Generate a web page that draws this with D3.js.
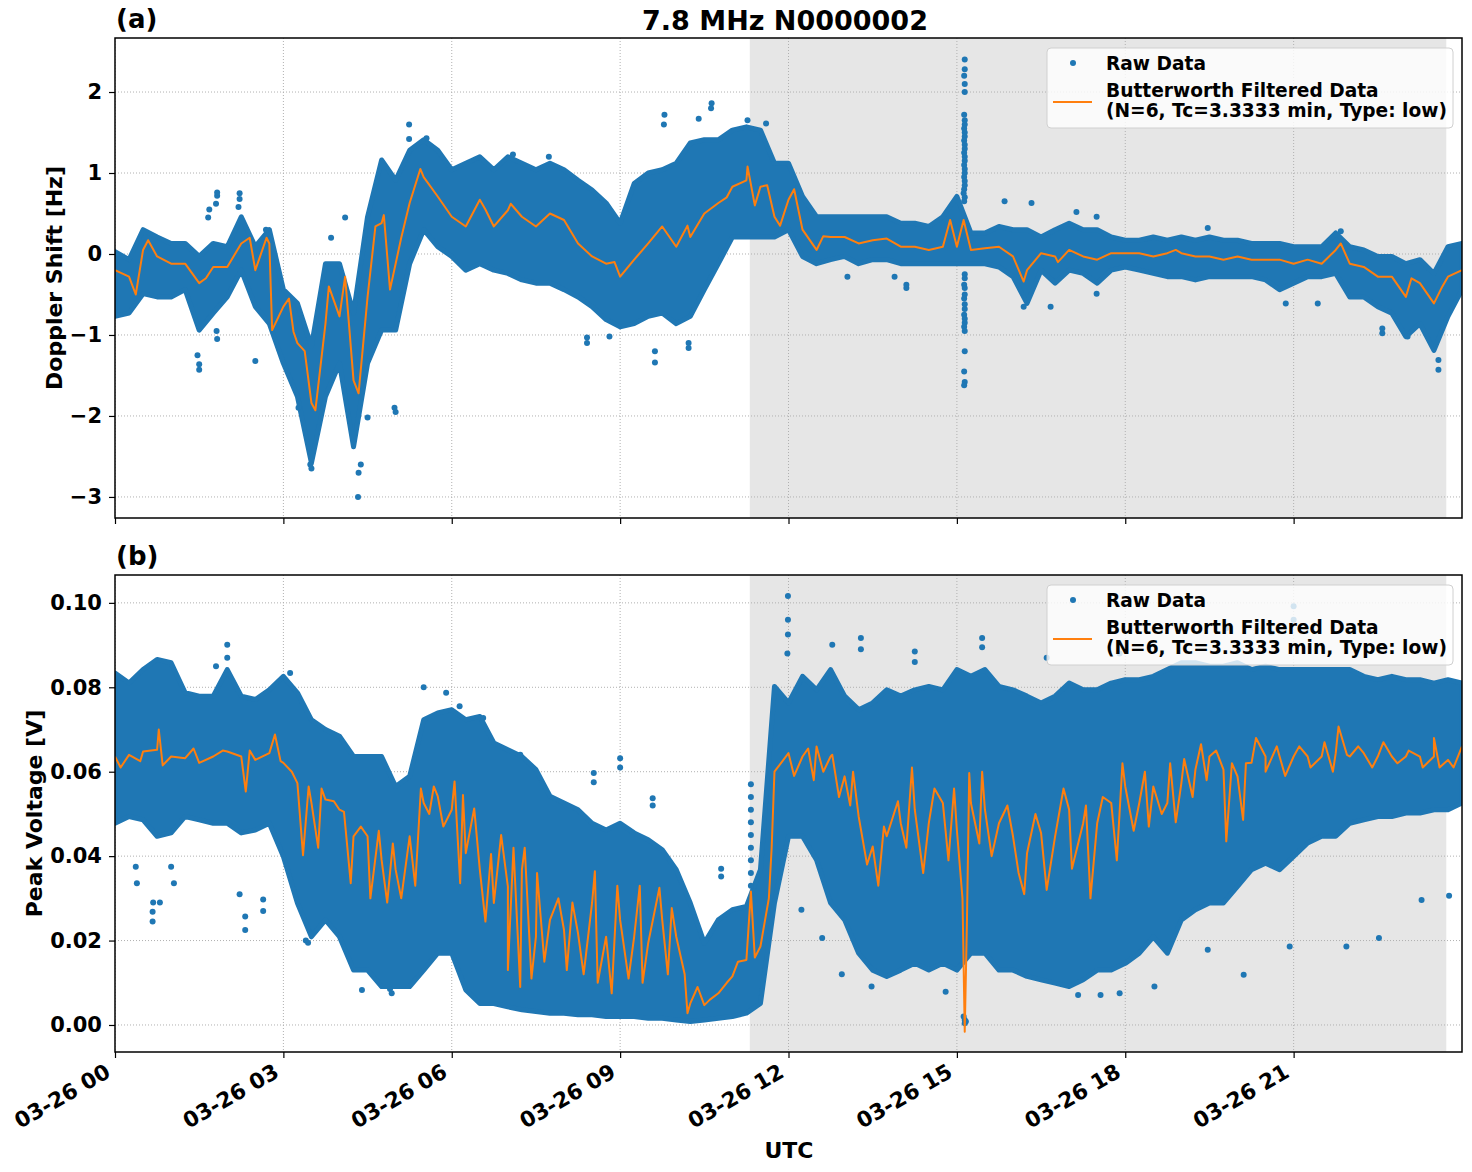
<!DOCTYPE html>
<html>
<head>
<meta charset="utf-8">
<script src="https://cdn.jsdelivr.net/npm/d3@7"></script>
<style>
  body { margin: 0; background: #fff; }
  text { font-family: "DejaVu Sans", sans-serif; font-weight: bold; }
</style>
</head>
<body>
<script>
'use strict';

// time axis: 15 minute bins over 03-26, in hours UTC
const binHours = d3.range(0, 24.001, 0.25);
const xTickHours = [0, 3, 6, 9, 12, 15, 18, 21];
const shadeStart = 11.31;   // grey band start (hours)
const shadeEnd = 23.72;     // grey band end (hours)

// ---- panel (a): Doppler shift [Hz] ----
const dopplerTicks = [-3, -2, -1, 0, 1, 2];
// Butterworth filtered line, one value per bin
const dopplerFilt = [
  -0.20, -0.28, 0.05, -0.03, -0.12, -0.12, -0.36, -0.16, -0.16, 0.13, -0.20, 0.13,
  -0.65, -1.10, -1.84, -0.86, -0.77, -1.56, -0.53, 0.38, -0.12, 0.63, 0.95, 0.71,
  0.46, 0.34, 0.67, 0.34, 0.54, 0.46, 0.34, 0.50, 0.42, 0.13, -0.03, -0.12,
  -0.28, -0.07, 0.13, 0.34, 0.09, 0.21, 0.50, 0.63, 0.83, 0.91, 0.83, 0.46,
  0.67, 0.30, 0.05, 0.21, 0.21, 0.13, 0.17, 0.19, 0.09, 0.09, 0.05, 0.09,
  0.09, 0.05, 0.07, 0.09, -0.03, -0.20, 0.01, -0.03, 0.05, -0.03, -0.07, 0.01,
  0.01, 0.01, -0.03, 0.01, 0.01, -0.03, -0.03, -0.07, -0.03, -0.07, -0.07, -0.07,
  -0.12, -0.07, -0.12, 0.05, -0.12, -0.16, -0.28, -0.28, -0.53, -0.36, -0.61, -0.28,
  -0.20
];
// extra filtered-line wiggles between bins [hour, Hz]
const dopplerFiltExtra = [
  [0.37, -0.50], [0.59, 0.17], [1.62, -0.30], [2.40, 0.20], [2.70, 0.20], [2.80, -0.94],
  [3.10, -0.55], [3.18, -0.96], [3.38, -1.20], [3.57, -1.93], [3.81, -0.40], [4.10, -0.28],
  [4.34, -1.72], [4.64, 0.34], [4.79, 0.48], [4.90, -0.44], [5.10, 0.20], [5.44, 1.05],
  [6.60, 0.55], [7.05, 0.62], [8.90, -0.10], [10.20, 0.35], [10.90, 0.70], [11.27, 1.08],
  [11.40, 0.60], [11.62, 0.85], [11.85, 0.35], [12.10, 0.80], [12.62, 0.22], [14.88, 0.42],
  [15.12, 0.42], [16.19, -0.34], [16.80, -0.10], [18.90, 0.05], [21.84, 0.13], [23.10, -0.30],
  [23.65, -0.40]
];
// raw data spread per bin
const dopplerHi = [
  0.03, -0.07, 0.30, 0.21, 0.13, 0.13, -0.03, 0.13, 0.09, 0.46, 0.09, 0.30,
  -0.44, -0.61, -1.14, -0.12, -0.12, -0.73, 0.46, 1.16, 0.91, 1.28, 1.41, 1.28,
  1.04, 1.12, 1.20, 1.04, 1.20, 1.12, 1.04, 1.12, 1.04, 0.91, 0.79, 0.63,
  0.38, 0.87, 1.00, 1.04, 1.12, 1.37, 1.41, 1.41, 1.53, 1.57, 1.53, 1.12,
  1.12, 0.71, 0.46, 0.46, 0.46, 0.46, 0.46, 0.46, 0.38, 0.38, 0.34, 0.46,
  0.71, 0.26, 0.26, 0.34, 0.30, 0.30, 0.21, 0.30, 0.38, 0.30, 0.30, 0.21,
  0.17, 0.17, 0.21, 0.17, 0.21, 0.17, 0.21, 0.17, 0.17, 0.13, 0.13, 0.13,
  0.09, 0.09, 0.09, 0.26, 0.09, 0.05, -0.03, -0.03, -0.12, -0.07, -0.24, 0.09,
  0.13
];
const dopplerLo = [
  -0.77, -0.73, -0.49, -0.53, -0.53, -0.44, -0.94, -0.73, -0.53, -0.20, -0.65, -0.86,
  -1.35, -1.76, -2.58, -1.76, -1.35, -2.38, -1.35, -0.94, -0.94, -0.12, 0.30, 0.09,
  -0.03, -0.20, -0.12, -0.20, -0.24, -0.32, -0.36, -0.36, -0.44, -0.53, -0.65, -0.81,
  -0.90, -0.86, -0.77, -0.73, -0.86, -0.77, -0.44, -0.12, 0.21, 0.21, 0.21, 0.21,
  0.30, -0.03, -0.12, -0.07, -0.03, -0.12, -0.07, -0.07, -0.12, -0.12, -0.12, -0.12,
  -0.12, -0.12, -0.12, -0.16, -0.28, -0.61, -0.20, -0.36, -0.20, -0.24, -0.36, -0.20,
  -0.16, -0.20, -0.24, -0.28, -0.28, -0.32, -0.28, -0.28, -0.28, -0.28, -0.32, -0.44,
  -0.36, -0.28, -0.28, -0.24, -0.53, -0.53, -0.65, -0.73, -1.02, -0.86, -1.19, -0.77,
  -0.44
];
// isolated raw points [hour, Hz]
const dopplerOutliers = [
  [1.50, -1.43], [1.50, -1.36], [1.47, -1.25], [1.68, 0.55], [1.66, 0.45], [1.82, 0.72],
  [1.82, 0.76], [1.80, 0.62], [2.22, 0.75], [2.22, 0.68], [2.20, 0.58], [1.82, -1.05],
  [1.81, -0.95], [2.50, -1.32], [2.69, 0.30], [3.27, -1.90], [3.50, -2.65], [3.48, -2.60],
  [3.85, 0.20], [4.10, 0.45], [4.34, -2.70], [4.33, -3.00], [4.38, -2.60], [4.50, -2.02],
  [5.00, -1.95], [4.98, -1.90], [5.24, 1.60], [5.24, 1.42], [5.55, 1.43], [7.09, 1.23],
  [7.73, 1.20], [8.41, -1.10], [8.41, -1.03], [8.81, -1.02], [9.62, -1.34], [9.62, -1.20],
  [10.22, -1.16], [10.22, -1.10], [10.63, 1.86], [10.62, 1.80], [9.79, 1.72], [9.78, 1.60],
  [10.40, 1.67], [11.60, 1.61], [11.27, 1.65],
  [15.14, 2.40], [15.14, 2.28], [15.13, 2.20], [15.14, 2.10], [15.14, 2.00], [15.13, 1.72],
  [15.14, 1.65], [15.14, 1.60], [15.13, 1.55], [15.14, 1.50], [15.14, 1.45], [15.13, 1.40],
  [15.14, 1.35], [15.14, 1.30], [15.13, 1.25], [15.14, 1.20], [15.14, 1.15], [15.13, 1.10],
  [15.14, 1.05], [15.14, 1.00], [15.13, 0.95], [15.14, 0.90], [15.14, 0.85], [15.13, 0.80],
  [15.12, 0.75], [15.14, 0.70], [15.13, 0.65], [15.14, -0.25], [15.14, -0.30], [15.13, -0.38],
  [15.14, -0.42], [15.14, -0.50], [15.13, -0.55], [15.14, -0.62], [15.14, -0.68], [15.13, -0.75],
  [15.14, -0.80], [15.14, -0.85], [15.13, -0.90], [15.14, -0.95], [15.14, -1.20], [15.13, -1.45],
  [15.14, -1.58], [15.13, -1.62],
  [13.05, -0.28], [13.89, -0.28], [14.10, -0.42], [14.10, -0.38], [15.85, 0.65], [16.33, 0.63],
  [16.19, -0.65], [16.67, -0.65], [17.13, 0.52], [17.49, -0.49], [17.49, 0.46], [19.47, 0.32],
  [22.58, -0.98], [22.58, -0.92], [23.58, -1.43], [23.58, -1.31], [23.03, -1.02], [20.86, -0.61],
  [21.43, -0.61], [21.84, 0.28]
];

// ---- panel (b): peak voltage [V] ----
const voltTicks = [0.00, 0.02, 0.04, 0.06, 0.08, 0.10];
const voltFilt = [
  0.0636, 0.0640, 0.0648, 0.0652, 0.0636, 0.0632, 0.0621, 0.0636, 0.0648, 0.0636, 0.0628, 0.0644,
  0.0621, 0.0573, 0.0526, 0.0534, 0.0510, 0.0447, 0.0447, 0.0391, 0.0368, 0.0447, 0.0526, 0.0542,
  0.0510, 0.0407, 0.0368, 0.0289, 0.0328, 0.0368, 0.0209, 0.0249, 0.0225, 0.0217, 0.0289, 0.0209,
  0.0249, 0.0209, 0.0194, 0.0249, 0.0209, 0.0051, 0.0047, 0.0075, 0.0115, 0.0154, 0.0186, 0.0600,
  0.0644, 0.0636, 0.0660, 0.0636, 0.0589, 0.0494, 0.0423, 0.0447, 0.0478, 0.0510, 0.0478, 0.0526,
  0.0462, 0.0526, 0.0510, 0.0478, 0.0447, 0.0407, 0.0455, 0.0447, 0.0510, 0.0478, 0.0478, 0.0526,
  0.0565, 0.0526, 0.0565, 0.0526, 0.0573, 0.0605, 0.0636, 0.0605, 0.0589, 0.0621, 0.0636, 0.0636,
  0.0636, 0.0636, 0.0636, 0.0644, 0.0636, 0.0644, 0.0636, 0.0636, 0.0636, 0.0636, 0.0636, 0.0628,
  0.0660
];
const voltFiltExtra = [
  [0.10, 0.0610], [0.45, 0.0625], [0.78, 0.0700], [0.85, 0.0615], [1.40, 0.0655], [1.92, 0.0650],
  [2.33, 0.0553], [2.40, 0.0650], [2.85, 0.0688], [2.95, 0.0625], [3.15, 0.0600], [3.35, 0.0402],
  [3.45, 0.0565], [3.62, 0.0420], [3.68, 0.0560], [3.90, 0.0530], [4.08, 0.0505], [4.20, 0.0336],
  [4.38, 0.0470], [4.55, 0.0300], [4.70, 0.0460], [4.85, 0.0290], [4.95, 0.0430], [5.10, 0.0300],
  [5.35, 0.0330], [5.45, 0.0560], [5.60, 0.0500], [5.68, 0.0565], [5.85, 0.0470], [6.05, 0.0577],
  [6.15, 0.0336], [6.20, 0.0545], [6.40, 0.0513], [6.60, 0.0245], [6.70, 0.0405], [6.88, 0.0450],
  [7.00, 0.0130], [7.10, 0.0420], [7.22, 0.0090], [7.30, 0.0420], [7.42, 0.0110], [7.52, 0.0360],
  [7.65, 0.0150], [7.90, 0.0300], [8.05, 0.0130], [8.15, 0.0290], [8.35, 0.0120], [8.55, 0.0364],
  [8.60, 0.0100], [8.85, 0.0075], [8.95, 0.0330], [9.15, 0.0110], [9.35, 0.0330], [9.40, 0.0100],
  [9.70, 0.0325], [9.85, 0.0120], [9.92, 0.0277], [10.15, 0.0120], [10.20, 0.0028], [10.38, 0.0090],
  [10.60, 0.0060], [10.90, 0.0100], [11.10, 0.0150], [11.33, 0.0316], [11.40, 0.0160], [11.65, 0.0300],
  [11.70, 0.0420], [12.10, 0.0590], [12.35, 0.0655], [12.45, 0.0580], [12.62, 0.0600], [12.78, 0.0640],
  [12.90, 0.0540], [13.10, 0.0520], [13.15, 0.0600], [13.40, 0.0380], [13.60, 0.0330], [13.70, 0.0470],
  [13.95, 0.0530], [14.10, 0.0420], [14.20, 0.0610], [14.40, 0.0360], [14.60, 0.0560], [14.85, 0.0390],
  [14.95, 0.0560], [15.10, 0.0300], [15.14, -0.0016], [15.18, 0.0250], [15.22, 0.0597], [15.40, 0.0430],
  [15.45, 0.0600], [15.62, 0.0400], [15.90, 0.0520], [16.10, 0.0360], [16.20, 0.0310], [16.40, 0.0500],
  [16.60, 0.0320], [16.90, 0.0560], [17.05, 0.0370], [17.30, 0.0520], [17.38, 0.0300], [17.60, 0.0540],
  [17.85, 0.0390], [17.95, 0.0620], [18.15, 0.0460], [18.35, 0.0600], [18.42, 0.0470], [18.65, 0.0500],
  [18.80, 0.0620], [18.90, 0.0480], [19.05, 0.0630], [19.20, 0.0540], [19.35, 0.0665], [19.45, 0.0580],
  [19.62, 0.0650], [19.80, 0.0435], [19.90, 0.0620], [20.10, 0.0486], [20.15, 0.0620], [20.33, 0.0680],
  [20.50, 0.0600], [20.70, 0.0660], [20.85, 0.0590], [21.10, 0.0660], [21.30, 0.0610], [21.55, 0.0670],
  [21.70, 0.0600], [21.80, 0.0707], [21.95, 0.0640], [22.15, 0.0660], [22.40, 0.0610], [22.60, 0.0670],
  [22.85, 0.0620], [23.05, 0.0650], [23.30, 0.0610], [23.50, 0.0680], [23.60, 0.0610], [23.85, 0.0610]
];
const voltHi = [
  0.0834, 0.0810, 0.0842, 0.0866, 0.0858, 0.0787, 0.0779, 0.0779, 0.0842, 0.0779, 0.0771, 0.0794,
  0.0826, 0.0787, 0.0723, 0.0700, 0.0684, 0.0636, 0.0636, 0.0636, 0.0565, 0.0589, 0.0723, 0.0739,
  0.0747, 0.0723, 0.0731, 0.0668, 0.0652, 0.0636, 0.0605, 0.0542, 0.0526, 0.0510, 0.0478, 0.0462,
  0.0478, 0.0455, 0.0439, 0.0415, 0.0368, 0.0289, 0.0194, 0.0249, 0.0273, 0.0281, 0.0368, 0.0802,
  0.0763, 0.0826, 0.0794, 0.0842, 0.0779, 0.0747, 0.0763, 0.0794, 0.0779, 0.0794, 0.0802, 0.0794,
  0.0842, 0.0826, 0.0842, 0.0802, 0.0794, 0.0779, 0.0763, 0.0779, 0.0810, 0.0794, 0.0794, 0.0810,
  0.0818, 0.0818, 0.0826, 0.0842, 0.0858, 0.0858, 0.0850, 0.0850, 0.0858, 0.0842, 0.0850, 0.0842,
  0.0842, 0.0842, 0.0842, 0.0842, 0.0842, 0.0826, 0.0818, 0.0826, 0.0818, 0.0818, 0.0810, 0.0818,
  0.0810
];
const voltLo = [
  0.0478, 0.0494, 0.0486, 0.0447, 0.0455, 0.0494, 0.0486, 0.0478, 0.0478, 0.0455, 0.0462, 0.0478,
  0.0399, 0.0289, 0.0209, 0.0249, 0.0209, 0.0130, 0.0130, 0.0091, 0.0091, 0.0091, 0.0130, 0.0170,
  0.0170, 0.0083, 0.0051, 0.0051, 0.0043, 0.0036, 0.0032, 0.0028, 0.0028, 0.0024, 0.0024, 0.0020,
  0.0020, 0.0020, 0.0016, 0.0016, 0.0012, 0.0008, 0.0012, 0.0016, 0.0020, 0.0028, 0.0051, 0.0289,
  0.0447, 0.0447, 0.0391, 0.0289, 0.0249, 0.0170, 0.0130, 0.0115, 0.0130, 0.0146, 0.0130, 0.0146,
  0.0130, 0.0170, 0.0170, 0.0130, 0.0130, 0.0115, 0.0107, 0.0099, 0.0091, 0.0107, 0.0130, 0.0130,
  0.0146, 0.0170, 0.0209, 0.0170, 0.0249, 0.0273, 0.0289, 0.0289, 0.0328, 0.0368, 0.0383, 0.0368,
  0.0399, 0.0431, 0.0447, 0.0447, 0.0478, 0.0486, 0.0494, 0.0494, 0.0502, 0.0502, 0.0510, 0.0510,
  0.0526
];
const voltOutliers = [
  [0.39, 0.0336], [0.37, 0.0375], [0.67, 0.0245], [0.67, 0.0268], [0.68, 0.0290], [0.80, 0.0290],
  [1.05, 0.0336], [1.00, 0.0375], [2.00, 0.0901], [2.00, 0.0870], [1.80, 0.0850], [2.32, 0.0225],
  [2.32, 0.0257], [2.22, 0.0310], [2.64, 0.0270], [2.64, 0.0297], [3.12, 0.0834], [3.40, 0.0200],
  [3.44, 0.0195], [4.40, 0.0083], [4.93, 0.0075], [4.90, 0.0085], [5.50, 0.0800], [5.90, 0.0787],
  [6.14, 0.0755], [6.56, 0.0727], [7.22, 0.0640], [8.53, 0.0597], [8.53, 0.0575], [9.00, 0.0632],
  [9.00, 0.0610], [9.58, 0.0537], [9.58, 0.0520], [10.80, 0.0352], [10.80, 0.0370],
  [11.33, 0.0570], [11.33, 0.0540], [11.33, 0.0510], [11.33, 0.0480], [11.33, 0.0450], [11.33, 0.0420],
  [11.33, 0.0390], [11.33, 0.0360], [11.33, 0.0330], [11.33, 0.0300],
  [11.99, 0.1016], [11.99, 0.0960], [11.99, 0.0925], [11.98, 0.0880], [12.78, 0.0901], [12.23, 0.0273],
  [12.60, 0.0206], [13.29, 0.0917], [13.29, 0.0890], [14.25, 0.0885], [14.25, 0.0860], [15.45, 0.0917],
  [15.45, 0.0895], [13.48, 0.0091], [12.95, 0.0120], [17.16, 0.0071], [17.56, 0.0071], [17.90, 0.0075],
  [15.14, 0.0004], [15.14, 0.0012], [15.12, 0.0020], [15.16, 0.0008], [14.80, 0.0079], [21.00, 0.0992],
  [21.00, 0.0960], [19.47, 0.0178], [18.52, 0.0091], [20.11, 0.0119], [21.94, 0.0186], [22.52, 0.0206],
  [23.28, 0.0296], [23.77, 0.0306], [20.93, 0.0186], [20.60, 0.0930], [19.80, 0.0940], [17.90, 0.0880],
  [16.60, 0.0870]
];

const blue = '#1f77b4';
const orange = '#ff7f0e';

(function () {

  const svg = d3.select('body').append('svg')
    .attr('width', 1472)
    .attr('height', 1172);

  // shared time scale (hours)
  const x = d3.scaleLinear().domain([0, 24]).range([115, 1462]);

  svg.append('text')
    .attr('x', 785).attr('y', 30)
    .attr('text-anchor', 'middle')
    .style('font-size', '27px')
    .text('7.8 MHz N0000002');

  drawPanel({
    top: 38, bottom: 518, domain: [-3.26, 2.667],
    ticks: dopplerTicks, fmt: d3.format('d'),
    filt: dopplerFilt, extra: dopplerFiltExtra,
    hi: dopplerHi, lo: dopplerLo, outliers: dopplerOutliers,
    tag: '(a)', ylabel: 'Doppler Shift [Hz]', ylabelX: 62, xLabels: false, id: 'a'
  });

  drawPanel({
    top: 575, bottom: 1052, domain: [-0.0064, 0.1066],
    ticks: voltTicks, fmt: d3.format('.2f'),
    filt: voltFilt, extra: voltFiltExtra,
    hi: voltHi, lo: voltLo, outliers: voltOutliers,
    tag: '(b)', ylabel: 'Peak Voltage [V]', ylabelX: 42, xLabels: true, id: 'b'
  });

  svg.append('text')
    .attr('x', 789).attr('y', 1158)
    .attr('text-anchor', 'middle')
    .style('font-size', '22px')
    .text('UTC');

  function drawPanel(cfg) {
    const y = d3.scaleLinear().domain(cfg.domain).range([cfg.bottom, cfg.top]);
    const g = svg.append('g');

    g.append('clipPath').attr('id', 'clip-' + cfg.id)
      .append('rect')
      .attr('x', x(0)).attr('y', cfg.top)
      .attr('width', x(24) - x(0)).attr('height', cfg.bottom - cfg.top);

    const plot = g.append('g').attr('clip-path', 'url(#clip-' + cfg.id + ')');

    // grey band
    plot.append('rect')
      .attr('x', x(shadeStart)).attr('y', cfg.top)
      .attr('width', x(shadeEnd) - x(shadeStart))
      .attr('height', cfg.bottom - cfg.top)
      .attr('fill', '#e6e6e6');

    // dotted grid
    plot.selectAll('.gx').data(xTickHours).enter().append('line')
      .attr('x1', (d) => x(d)).attr('x2', (d) => x(d))
      .attr('y1', cfg.top).attr('y2', cfg.bottom)
      .attr('stroke', '#b0b0b0').attr('stroke-width', 1).attr('stroke-dasharray', '1,2');
    plot.selectAll('.gy').data(cfg.ticks).enter().append('line')
      .attr('x1', x(0)).attr('x2', x(24))
      .attr('y1', (d) => y(d)).attr('y2', (d) => y(d))
      .attr('stroke', '#b0b0b0').attr('stroke-width', 1).attr('stroke-dasharray', '1,2');

    // raw data: dense band per bin + isolated points
    const band = binHours.map((h, i) => ({ h: h, lo: cfg.lo[i], hi: cfg.hi[i] }));
    const area = d3.area()
      .x((d) => x(d.h))
      .y0((d) => y(d.lo))
      .y1((d) => y(d.hi));
    plot.append('path')
      .datum(band)
      .attr('d', area)
      .attr('fill', blue)
      .attr('stroke', blue)
      .attr('stroke-width', 5)
      .attr('stroke-linejoin', 'round');

    plot.selectAll('.dot').data(cfg.outliers).enter().append('circle')
      .attr('cx', (d) => x(d[0]))
      .attr('cy', (d) => y(d[1]))
      .attr('r', 3)
      .attr('fill', blue);

    // filtered line
    const filtPts = binHours.map((h, i) => [h, cfg.filt[i]])
      .concat(cfg.extra)
      .sort((a, b) => a[0] - b[0]);
    plot.append('path')
      .datum(filtPts)
      .attr('d', d3.line().x((d) => x(d[0])).y((d) => y(d[1])))
      .attr('fill', 'none')
      .attr('stroke', orange)
      .attr('stroke-width', 2)
      .attr('stroke-linejoin', 'round');

    // axes
    const yAxis = d3.axisLeft(y).tickValues(cfg.ticks).tickFormat(cfg.fmt)
      .tickSize(6).tickPadding(7);
    const ya = g.append('g').attr('transform', 'translate(' + x(0) + ',0)').call(yAxis);
    ya.select('.domain').remove();
    ya.selectAll('text').style('font-size', '21px').attr('font-family', null)
      .attr('fill', '#000');
    ya.selectAll('line').attr('stroke', '#000').attr('stroke-width', 1.2);

    const xAxis = d3.axisBottom(x).tickValues(xTickHours).tickFormat('').tickSize(6);
    const xa = g.append('g').attr('transform', 'translate(0,' + cfg.bottom + ')').call(xAxis);
    xa.select('.domain').remove();
    xa.selectAll('line').attr('stroke', '#000').attr('stroke-width', 1.2);

    if (cfg.xLabels) {
      g.selectAll('.xl').data(xTickHours).enter().append('text')
        .attr('transform', (d) => 'translate(' + (x(d) - 3) + ',' + (cfg.bottom + 24) + ') rotate(-30)')
        .attr('text-anchor', 'end')
        .style('font-size', '21.5px')
        .text((d) => '03-26 ' + d3.format('02d')(d));
    }

    // frame
    g.append('rect')
      .attr('x', x(0)).attr('y', cfg.top)
      .attr('width', x(24) - x(0)).attr('height', cfg.bottom - cfg.top)
      .attr('fill', 'none').attr('stroke', '#000').attr('stroke-width', 1.5);

    g.append('text')
      .attr('x', x(0) + 1).attr('y', cfg.top - 10)
      .style('font-size', '26px')
      .text(cfg.tag);

    g.append('text')
      .attr('transform', 'translate(' + cfg.ylabelX + ',' + ((cfg.top + cfg.bottom) / 2) + ') rotate(-90)')
      .attr('text-anchor', 'middle')
      .style('font-size', '22px')
      .text(cfg.ylabel);

    drawLegend(g, cfg.top);
  }

  function drawLegend(g, top) {
    const lg = g.append('g').attr('transform', 'translate(1047,' + (top + 10) + ')');
    lg.append('rect')
      .attr('width', 406).attr('height', 80).attr('rx', 4)
      .attr('fill', '#fff').attr('fill-opacity', 0.8)
      .attr('stroke', '#d0d0d0').attr('stroke-width', 1);
    lg.append('circle').attr('cx', 26).attr('cy', 15).attr('r', 3).attr('fill', blue);
    lg.append('line').attr('x1', 6).attr('x2', 45).attr('y1', 54).attr('y2', 54)
      .attr('stroke', orange).attr('stroke-width', 2);
    const labels = ['Raw Data', 'Butterworth Filtered Data', '(N=6, Tc=3.3333 min, Type: low)'];
    const rows = [22, 49, 69];
    lg.selectAll('.lt').data(labels).enter().append('text')
      .attr('x', 59).attr('y', (d, i) => rows[i])
      .style('font-size', '18.6px')
      .text((d) => d);
  }

})();
</script>
</body>
</html>
